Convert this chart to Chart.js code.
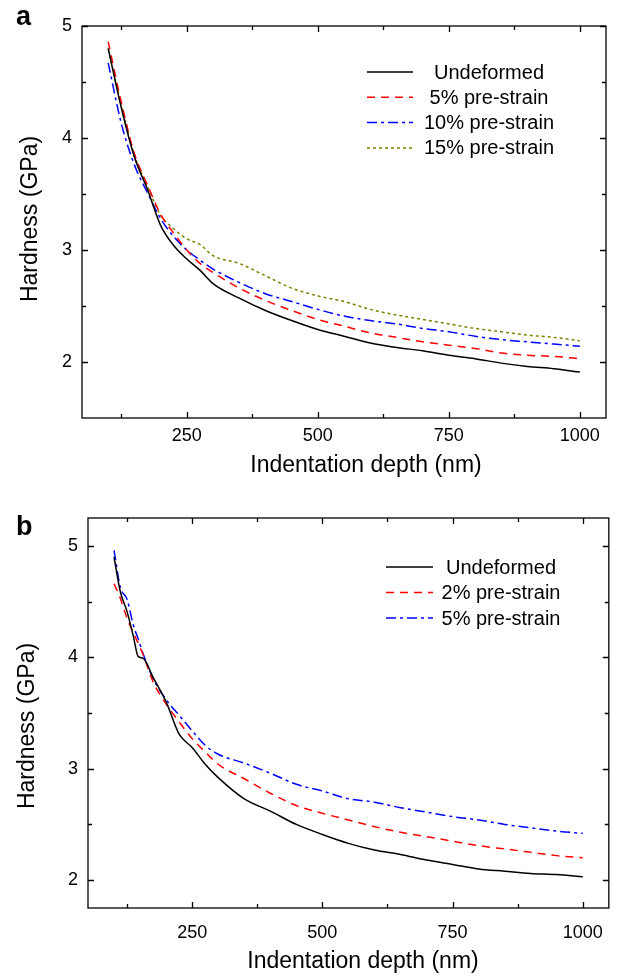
<!DOCTYPE html>
<html lang="en">
<head>
<meta charset="UTF-8">
<title>Hardness vs indentation depth</title>
<style>
  body{margin:0;background:#fff;}
  .panel{position:absolute;left:0;}
  #pa{top:0;}
  #pb{top:490px;}
</style>
</head>
<body>
<div class="panel" id="pa"><canvas id="chartA" width="617" height="490"></canvas></div>
<div class="panel" id="pb"><canvas id="chartB" width="617" height="489"></canvas></div>
<script src="https://cdn.jsdelivr.net/npm/chart.js"></script>
<script>
// panel a : depth (nm) and hardness (GPa)
const depthA = [100,125,150,175,200,225,250,275,300,350,400,450,500,550,600,650,700,750,800,850,900,950,1000]
const undeformedA = [4.80,4.27,3.83,3.54,3.22,3.04,2.92,2.82,2.70,2.57,2.46,2.37,2.29,2.23,2.17,2.13,2.10,2.06,2.03,1.99,1.96,1.94,1.91]
const strain5A = [4.86,4.32,3.86,3.58,3.32,3.15,3.00,2.88,2.80,2.66,2.55,2.46,2.38,2.32,2.26,2.22,2.18,2.15,2.12,2.08,2.06,2.05,2.03]
const strain10A = [4.67,4.13,3.76,3.51,3.28,3.12,3.00,2.91,2.83,2.71,2.61,2.54,2.47,2.41,2.37,2.34,2.30,2.27,2.23,2.20,2.18,2.16,2.14]
const strain15A = [4.79,4.30,3.85,3.57,3.31,3.19,3.10,3.05,2.95,2.88,2.77,2.66,2.59,2.54,2.47,2.42,2.38,2.34,2.30,2.27,2.24,2.22,2.19]

// panel b
const depthB = [100,112,125,137,146,156,175,200,225,250,275,300,350,400,450,500,550,600,650,700,750,800,850,900,950,1000]
const undeformedB = [4.90,4.59,4.41,4.19,4.01,3.99,3.82,3.60,3.31,3.19,3.04,2.92,2.73,2.62,2.50,2.41,2.33,2.27,2.23,2.18,2.14,2.10,2.08,2.06,2.05,2.03]
const strain2B = [4.66,4.53,4.35,4.22,4.13,4.02,3.78,3.58,3.42,3.27,3.15,3.04,2.91,2.78,2.67,2.60,2.54,2.48,2.43,2.39,2.35,2.31,2.28,2.25,2.22,2.20]
const strain5B = [4.96,4.63,4.52,4.29,4.17,4.03,3.81,3.62,3.48,3.34,3.21,3.13,3.05,2.96,2.86,2.80,2.73,2.70,2.65,2.61,2.57,2.54,2.50,2.47,2.44,2.42]

const xTicks = [250,500,750,1000]
const xMinor = [125,375,625,875]
const yTicks = [2,3,4,5]
const yMinor = [2.5,3.5,4.5]

const xTitle = 'Indentation depth (nm)'
const yTitle = 'Hardness (GPa)'

const FONT = '"Liberation Sans", Arial, Helvetica, sans-serif'

function pts(xs, ys){ return xs.map((x,i)=>({x:x,y:ys[i]})) }

function line(label, xs, ys, color, dash){
  return {label:label, data:pts(xs,ys), borderColor:color, borderWidth:1.5, borderDash:dash,
          pointRadius:0, fill:false, cubicInterpolationMode:'monotone'}
}

// box round the plot with inward ticks on all four sides, titles, legend
const framePlugin = {
  id:'frame',
  afterDatasetsDraw(chart){
    const {ctx, chartArea:a} = chart
    const sx = chart.scales.x, sy = chart.scales.y
    ctx.save()
    ctx.strokeStyle = '#000'
    ctx.lineWidth = 1.3
    ctx.strokeRect(a.left, a.top, a.right-a.left, a.bottom-a.top)
    ctx.beginPath()
    const doX = (vals, len) => vals.forEach(v=>{
      const p = Math.round(sx.getPixelForValue(v))+0.5
      ctx.moveTo(p, a.bottom); ctx.lineTo(p, a.bottom-len)
      ctx.moveTo(p, a.top); ctx.lineTo(p, a.top+len)
    })
    const doY = (vals, len) => vals.forEach(v=>{
      const p = Math.round(sy.getPixelForValue(v))+0.5
      ctx.moveTo(a.left, p); ctx.lineTo(a.left+len, p)
      ctx.moveTo(a.right, p); ctx.lineTo(a.right-len, p)
    })
    doX(xTicks, 6); doX(xMinor, 4)
    doY(yTicks, 6); doY(yMinor, 4)
    ctx.stroke()
    ctx.restore()
  },
  afterDraw(chart, args, opts){
    const ctx = chart.ctx
    ctx.save()
    ctx.fillStyle = '#000'
    // panel letter
    ctx.font = 'bold 27px ' + FONT
    ctx.textBaseline = 'alphabetic'
    ctx.textAlign = 'left'
    ctx.fillText(opts.letter, 16, opts.letterY)
    // axis titles
    ctx.font = '23px ' + FONT
    ctx.textAlign = 'center'
    ctx.textBaseline = 'middle'
    ctx.fillText(xTitle, opts.xt[0], opts.xt[1])
    ctx.save()
    ctx.translate(opts.yt[0], opts.yt[1])
    ctx.rotate(-Math.PI/2)
    ctx.fillText(yTitle, 0, 0)
    ctx.restore()
    // legend
    const lg = opts.legend
    ctx.font = '20px ' + FONT
    chart.data.datasets.forEach((ds,i)=>{
      const y = lg.y + i*lg.dy
      ctx.strokeStyle = ds.borderColor
      ctx.lineWidth = 1.5
      ctx.setLineDash(ds.borderDash || [])
      ctx.beginPath(); ctx.moveTo(lg.x0, y); ctx.lineTo(lg.x1, y); ctx.stroke()
      ctx.setLineDash([])
      ctx.fillText(ds.label, lg.tx, y+1)
    })
    ctx.restore()
  }
}

function makeOptions(cfg){
  return {
    responsive:false, animation:false,
    layout:{padding:{top:cfg.top, right:cfg.right, left:0, bottom:0}},
    plugins:{
      legend:{display:false}, tooltip:{enabled:false},
      frame:{letter:cfg.letter, letterY:cfg.letterY, legend:cfg.legend, xt:cfg.xt, yt:cfg.yt}
    },
    scales:{
      x:{
        type:'linear', min:50, max:1050,
        afterBuildTicks:s=>{ s.ticks = xTicks.map(v=>({value:v})) },
        afterFit:s=>{ s.height = cfg.xh },
        grid:{display:false, drawTicks:false}, border:{display:false},
        ticks:{padding:cfg.xpad, color:'#000', font:{family:FONT, size:18}, callback:v=>String(v)}
      },
      y:{
        type:'linear', min:cfg.ymin, max:cfg.ymax,
        afterBuildTicks:s=>{ s.ticks = yTicks.map(v=>({value:v})) },
        afterFit:s=>{ s.width = cfg.yw },
        grid:{display:false, drawTicks:false}, border:{display:false},
        ticks:{padding:10, color:'#000', font:{family:FONT, size:18}, callback:v=>String(v)}
      }
    }
  }
}

new Chart(document.getElementById('chartA'), {
  type:'line',
  data:{datasets:[
    line('Undeformed', depthA, undeformedA, '#000000', []),
    line('5% pre-strain', depthA, strain5A, '#ff0000', [8,6]),
    line('10% pre-strain', depthA, strain10A, '#0000ff', [10,4,3,4]),
    line('15% pre-strain', depthA, strain15A, '#808000', [3,3])
  ]},
  options:makeOptions({top:26, right:11, xh:72, yw:82, ymin:1.5, ymax:5, xpad:7,
    xt:[366,466], yt:[31,219],
    letter:'a', letterY:25, legend:{x0:367, x1:413, tx:489, y:72, dy:25.3}}),
  plugins:[framePlugin]
})

new Chart(document.getElementById('chartB'), {
  type:'line',
  data:{datasets:[
    line('Undeformed', depthB, undeformedB, '#000000', []),
    line('2% pre-strain', depthB, strain2B, '#ff0000', [8,6]),
    line('5% pre-strain', depthB, strain5B, '#0000ff', [10,4,3,4])
  ]},
  options:makeOptions({top:28, right:4, xh:71, yw:88, ymin:1.75, ymax:5.25, xpad:14,
    xt:[363,472], yt:[28,236],
    letter:'b', letterY:45, legend:{x0:386, x1:433, tx:501, y:77, dy:25.5}}),
  plugins:[framePlugin]
})
</script>
</body>
</html>
